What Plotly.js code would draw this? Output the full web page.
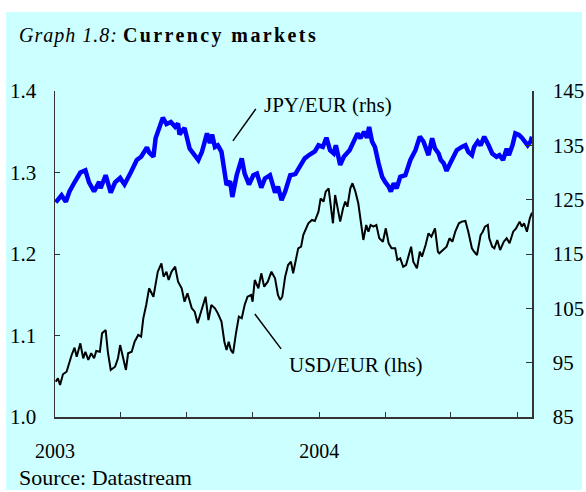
<!DOCTYPE html>
<html>
<head>
<meta charset="utf-8">
<script src="https://cdn.plot.ly/plotly-3.0.1.min.js"></script>
<style>html,body{margin:0;padding:0;background:#fff;}#chart{width:586px;height:492px;}</style>
</head>
<body>
<div id="chart"></div>
<script>
// JPY/EUR (right-hand scale)
const jpyDates = ["2003-01-02","2003-01-10","2003-01-16","2003-01-21","2003-01-28","2003-02-05","2003-02-12","2003-02-17","2003-02-24","2003-03-03","2003-03-05","2003-03-12","2003-03-19","2003-03-25","2003-04-01","2003-04-07","2003-04-16","2003-04-24","2003-04-30","2003-05-08","2003-05-11","2003-05-17","2003-05-20","2003-05-26","2003-05-30","2003-06-04","2003-06-10","2003-06-16","2003-06-20","2003-06-22","2003-06-29","2003-07-06","2003-07-13","2003-07-18","2003-07-23","2003-07-30","2003-08-03","2003-08-06","2003-08-10","2003-08-14","2003-08-19","2003-08-23","2003-08-26","2003-08-31","2003-09-03","2003-09-09","2003-09-16","2003-09-20","2003-09-26","2003-10-02","2003-10-07","2003-10-13","2003-10-18","2003-10-25","2003-11-01","2003-11-05","2003-11-10","2003-11-15","2003-11-22","2003-11-29","2003-12-06","2003-12-12","2003-12-19","2003-12-26","2003-12-31","2004-01-06","2004-01-11","2004-01-16","2004-01-21","2004-01-24","2004-01-30","2004-02-04","2004-02-12","2004-02-17","2004-02-23","2004-02-27","2004-03-03","2004-03-07","2004-03-10","2004-03-14","2004-03-18","2004-03-23","2004-03-28","2004-04-01","2004-04-06","2004-04-09","2004-04-13","2004-04-17","2004-04-22","2004-04-29","2004-05-06","2004-05-13","2004-05-19","2004-05-24","2004-05-31","2004-06-05","2004-06-09","2004-06-14","2004-06-17","2004-06-21","2004-06-25","2004-06-30","2004-07-05","2004-07-09","2004-07-16","2004-07-21","2004-07-25","2004-07-30","2004-08-02","2004-08-07","2004-08-11","2004-08-16","2004-08-22","2004-08-27","2004-09-02","2004-09-06","2004-09-11","2004-09-16","2004-09-19","2004-09-24","2004-09-28","2004-10-03","2004-10-07","2004-10-12","2004-10-15","2004-10-19","2004-10-21"];
const jpyValues = [124.5,125.8,124.6,126.5,128.2,130.0,130.4,128.2,126.5,128.3,127.1,129.5,126.3,128.2,129.0,127.8,130.1,132.3,132.9,134.6,133.7,132.9,136.3,138.4,140.1,138.9,139.3,138.4,139.0,137.0,138.2,134.4,133.2,132.3,133.8,137.2,135.4,137.0,134.7,135.0,133.8,130.1,127.7,128.4,125.5,129.5,132.6,129.8,127.8,129.5,129.8,127.2,128.9,129.5,126.3,127.4,124.9,126.5,129.5,129.7,131.4,132.6,133.3,133.9,135.0,134.7,136.4,134.1,133.5,135.0,131.4,132.9,134.1,135.4,137.2,136.3,137.5,136.4,138.4,135.7,134.7,131.7,129.2,128.3,127.4,126.5,128.0,127.1,129.2,129.5,132.3,134.1,136.6,135.7,133.2,136.3,134.4,133.5,132.3,131.7,130.3,131.7,132.9,134.1,134.7,135.0,133.8,133.2,134.7,135.7,135.0,136.6,135.0,133.5,132.9,133.2,132.3,134.4,133.2,135.0,137.2,136.9,136.4,135.7,135.0,135.7,136.6];

// USD/EUR (left-hand scale)
const usdDates = ["2003-01-02","2003-01-05","2003-01-08","2003-01-12","2003-01-17","2003-01-20","2003-01-24","2003-01-28","2003-01-31","2003-02-05","2003-02-09","2003-02-12","2003-02-16","2003-02-20","2003-02-24","2003-02-27","2003-03-04","2003-03-07","2003-03-12","2003-03-15","2003-03-19","2003-03-25","2003-03-29","2003-04-01","2003-04-05","2003-04-09","2003-04-12","2003-04-17","2003-04-21","2003-04-26","2003-04-30","2003-05-03","2003-05-07","2003-05-11","2003-05-17","2003-05-20","2003-05-23","2003-05-28","2003-05-31","2003-06-04","2003-06-07","2003-06-11","2003-06-16","2003-06-20","2003-06-25","2003-06-29","2003-07-03","2003-07-09","2003-07-13","2003-07-17","2003-07-23","2003-07-28","2003-08-01","2003-08-05","2003-08-10","2003-08-14","2003-08-19","2003-08-23","2003-08-26","2003-08-29","2003-09-01","2003-09-04","2003-09-08","2003-09-12","2003-09-16","2003-09-20","2003-09-24","2003-09-29","2003-10-01","2003-10-04","2003-10-09","2003-10-13","2003-10-17","2003-10-22","2003-10-27","2003-11-01","2003-11-05","2003-11-08","2003-11-11","2003-11-15","2003-11-19","2003-11-23","2003-11-26","2003-11-30","2003-12-03","2003-12-07","2003-12-10","2003-12-12","2003-12-17","2003-12-22","2003-12-26","2003-12-31","2004-01-03","2004-01-07","2004-01-10","2004-01-14","2004-01-17","2004-01-20","2004-01-23","2004-01-26","2004-01-30","2004-02-03","2004-02-06","2004-02-09","2004-02-13","2004-02-16","2004-02-20","2004-02-24","2004-02-27","2004-03-02","2004-03-06","2004-03-09","2004-03-12","2004-03-16","2004-03-20","2004-03-24","2004-03-29","2004-04-02","2004-04-06","2004-04-10","2004-04-15","2004-04-18","2004-04-22","2004-04-26","2004-04-30","2004-05-03","2004-05-07","2004-05-10","2004-05-15","2004-05-19","2004-05-22","2004-05-27","2004-05-31","2004-06-04","2004-06-07","2004-06-09","2004-06-13","2004-06-15","2004-06-20","2004-06-25","2004-06-29","2004-07-03","2004-07-07","2004-07-12","2004-07-16","2004-07-21","2004-07-25","2004-07-30","2004-08-02","2004-08-06","2004-08-11","2004-08-14","2004-08-17","2004-08-21","2004-08-23","2004-08-27","2004-08-30","2004-09-03","2004-09-07","2004-09-12","2004-09-16","2004-09-20","2004-09-25","2004-09-29","2004-10-04","2004-10-07","2004-10-10","2004-10-14","2004-10-18","2004-10-21"];
const usdValues = [1.0433,1.0475,1.0393,1.0524,1.0556,1.0646,1.0761,1.085,1.074,1.0904,1.072,1.0801,1.07,1.0782,1.072,1.081,1.08,1.1027,1.1067,1.08,1.0577,1.0617,1.072,1.0883,1.072,1.0577,1.0782,1.08,1.0924,1.1006,1.0985,1.1211,1.1374,1.1579,1.1476,1.166,1.1783,1.1886,1.1722,1.1783,1.1681,1.1783,1.1844,1.166,1.1579,1.1415,1.1518,1.1334,1.1292,1.115,1.1334,1.1476,1.119,1.1374,1.1334,1.1272,1.117,1.0924,1.0822,1.0924,1.0822,1.0782,1.1027,1.1231,1.1211,1.1374,1.1476,1.1497,1.1415,1.1681,1.1579,1.1763,1.1599,1.166,1.1783,1.1702,1.1497,1.1436,1.1476,1.1722,1.1865,1.1906,1.1763,1.1947,1.207,1.209,1.2233,1.2274,1.2377,1.2417,1.2405,1.2519,1.2683,1.2642,1.2765,1.2806,1.2561,1.2377,1.2724,1.2601,1.2397,1.2561,1.2642,1.258,1.2806,1.2868,1.2765,1.2622,1.2438,1.2172,1.2356,1.2274,1.2356,1.2335,1.2356,1.2193,1.2151,1.2315,1.2131,1.207,1.207,1.1926,1.1947,1.1844,1.1865,1.1967,1.209,1.1906,1.1824,1.2028,1.1967,1.211,1.2254,1.2213,1.2274,1.2315,1.2028,1.2008,1.2049,1.209,1.2193,1.2151,1.2274,1.2377,1.2397,1.2405,1.2274,1.207,1.2028,1.1988,1.2233,1.2274,1.2335,1.2356,1.2193,1.209,1.207,1.2172,1.2049,1.2151,1.2193,1.2131,1.2274,1.2315,1.2397,1.2335,1.2377,1.2274,1.2438,1.2507];

const xTickVals = ["2003-01-01","2003-04-01","2003-07-01","2003-10-01","2004-01-01","2004-04-01","2004-07-01","2004-10-01"];
const xTickText = ["2003","","","","2004","","",""];
const leftTicks = [1.0,1.1,1.2,1.3,1.4];
const rightTicks = [85,95,105,115,125,135,145];

const FONT = "Liberation Serif, Times New Roman, serif";
const AX = "#333333";

const traces = [
  {x: usdDates, y: usdValues, type: "scatter", mode: "lines", name: "USD/EUR (lhs)",
   line: {color: "#000000", width: 2}, yaxis: "y", hoverinfo: "skip"},
  {x: jpyDates, y: jpyValues, type: "scatter", mode: "lines", name: "JPY/EUR (rhs)",
   line: {color: "#0000FF", width: 4.5}, yaxis: "y2", hoverinfo: "skip"}
];

const layout = {
  width: 586, height: 492,
  margin: {l: 55, r: 54, t: 91, b: 75, pad: 0},
  paper_bgcolor: "#FFFFFF",
  plot_bgcolor: "rgba(0,0,0,0)",
  showlegend: false,
  font: {family: FONT, size: 20, color: "#000"},
  xaxis: {
    type: "date", range: ["2003-01-01", "2004-10-21"],
    tickvals: xTickVals, ticktext: xTickText,
    ticks: "inside", ticklen: 5, tickcolor: AX, tickwidth: 1,
    showline: true, linecolor: AX, linewidth: 1.5,
    showgrid: false, zeroline: false,
    tickfont: {family: FONT, size: 20, color: "#000"},
    ticklabelstandoff: 15
  },
  yaxis: {
    range: [1.0, 1.4], tickvals: leftTicks, tickformat: ".1f",
    ticks: "inside", ticklen: 5, tickcolor: AX, tickwidth: 1,
    showline: true, linecolor: AX, linewidth: 1.5,
    showgrid: false, zeroline: false,
    tickfont: {family: FONT, size: 21, color: "#000"},
    ticklabelstandoff: 13
  },
  yaxis2: {
    range: [85, 145], tickvals: rightTicks, overlaying: "y", side: "right",
    ticks: "inside", ticklen: 6, tickcolor: AX, tickwidth: 1,
    showline: true, linecolor: AX, linewidth: 1.5,
    showgrid: false, zeroline: false,
    tickfont: {family: FONT, size: 21, color: "#000"},
    ticklabelstandoff: 15
  },
  shapes: [
    {type: "rect", xref: "paper", yref: "paper", layer: "below",
     x0: (6-55)/477, x1: (582-55)/477, y0: (417-490)/326, y1: (417-12)/326,
     fillcolor: "#CCFFFF", line: {width: 0}},
    {type: "line", xref: "paper", yref: "paper",
     x0: 0.373, y0: 0.847, x1: 0.421, y1: 0.945, line: {color: "#000", width: 1.5}},
    {type: "line", xref: "paper", yref: "paper",
     x0: 0.419, y0: 0.316, x1: 0.474, y1: 0.209, line: {color: "#000", width: 1.5}}
  ],
  annotations: [
    {xref: "paper", yref: "paper", x: (17-55)/477, y: (417-35)/326, xanchor: "left", yanchor: "middle",
     text: "<span style='letter-spacing:1px'><i>Graph 1.8:</i></span> <span style='letter-spacing:2.4px'><b>Currency markets</b></span>", showarrow: false,
     font: {family: FONT, size: 20, color: "#000"}},
    {xref: "paper", yref: "paper", x: 0.434, y: 0.957, xanchor: "left", yanchor: "middle",
     text: "JPY/EUR (rhs)", showarrow: false, font: {family: FONT, size: 21, color: "#000"}},
    {xref: "paper", yref: "paper", x: 0.486, y: 0.160, xanchor: "left", yanchor: "middle",
     text: "USD/EUR (lhs)", showarrow: false, font: {family: FONT, size: 21, color: "#000"}},
    {xref: "paper", yref: "paper", x: (17-55)/477, y: (417-477)/326, xanchor: "left", yanchor: "middle",
     text: "Source: Datastream", showarrow: false, font: {family: FONT, size: 22, color: "#000"}}
  ]
};

Plotly.newPlot("chart", traces, layout, {staticPlot: true, displayModeBar: false});
</script>
</body>
</html>
